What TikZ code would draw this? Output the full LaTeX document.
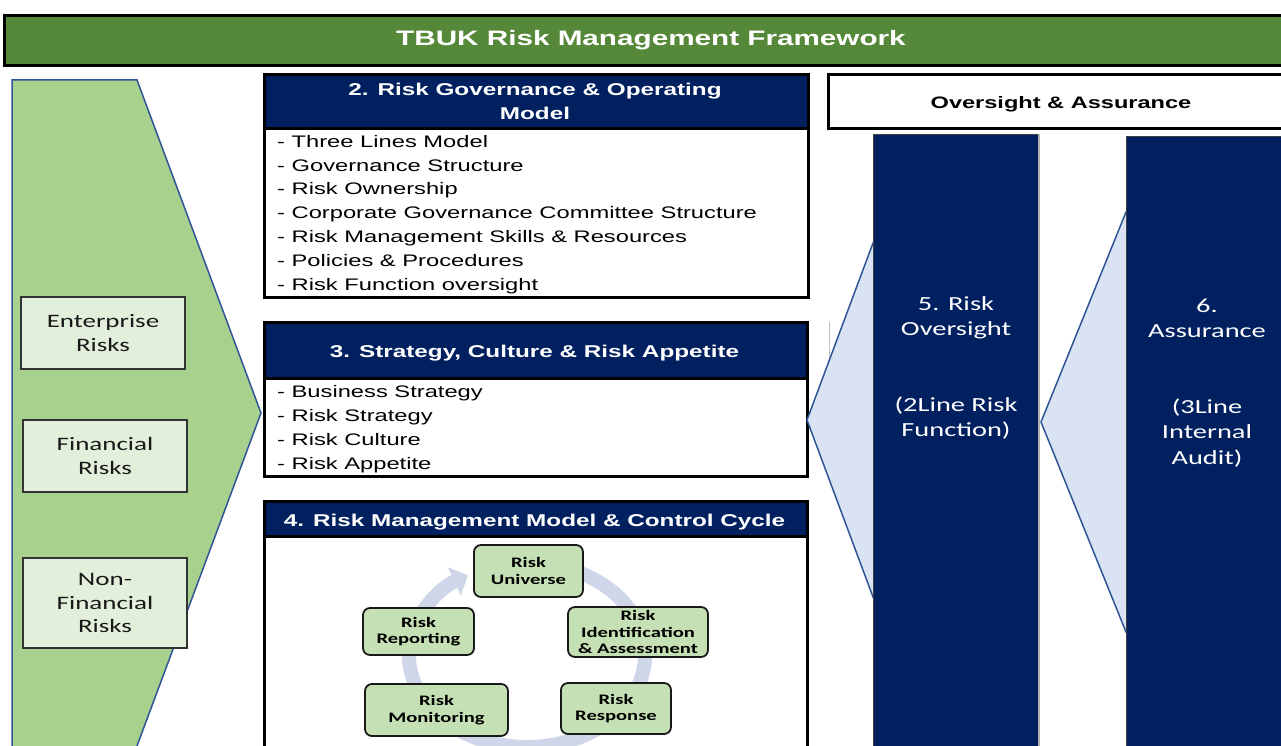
\documentclass[tikz,border=0pt]{standalone}
\usepackage{fontspec}
\setmainfont{Liberation Sans}
\newfontfamily\arialx[FakeStretch=1.42]{Liberation Sans}
\newfontfamily\calx[FakeStretch=1.42]{Carlito}
\usetikzlibrary{arrows.meta}

\definecolor{titleGreen}{RGB}{86,136,57}
\definecolor{arrowGreen}{RGB}{169,209,142}
\definecolor{paleGreen}{RGB}{226,239,218}
\definecolor{cycGreen}{RGB}{197,224,180}
\definecolor{navy}{RGB}{0,32,96}
\definecolor{lightBlue}{RGB}{218,227,243}
\definecolor{chevBlue}{RGB}{47,85,151}
\definecolor{ringBlue}{RGB}{207,214,234}

\begin{document}
\begin{tikzpicture}[x=1pt,y=-1pt,
  framebox/.style={draw=black, line width=3pt, fill=white, inner sep=0pt},
  hdrbar/.style={draw=black, line width=3pt, fill=navy, inner sep=0pt},
  hdrtext/.style={text=white, font=\arialx\bfseries\fontsize{17.1}{23.3}\selectfont, align=center, inner sep=0pt},
  item/.style={font=\arialx\fontsize{16.7}{23.8}\selectfont, anchor=base west, inner sep=0pt},
  riskbox/.style={draw=black!80, line width=1.2pt, fill=paleGreen, text=black!90,
    font=\calx\fontsize{19}{23.3}\selectfont, align=center, inner sep=0pt},
  cyclebox/.style={draw=black!90, line width=1.8pt, rounded corners=7pt, fill=cycGreen,
    font=\calx\bfseries\fontsize{14.5}{16.7}\selectfont, align=center, inner sep=0pt},
  column/.style={fill=navy, draw=black!75, line width=1pt, inner sep=0pt},
  coltext/.style={text=white, font=\calx\fontsize{20}{25.3}\selectfont, align=center, inner sep=0pt},
  chevron/.style={fill=lightBlue, draw=chevBlue, line width=1.5pt, line join=miter}
]
\useasboundingbox (0,0) rectangle (1281,746);
\clip (0,0) rectangle (1281,746);

% title bar
\node[draw=black, line width=3pt, fill=titleGreen, anchor=north west,
      minimum width=1300pt, minimum height=50pt, inner sep=0pt] (titlebar) at (3,14) {};
\node[text=white, font=\arialx\bfseries\fontsize{20.9}{25}\selectfont, anchor=base, inner sep=0pt]
      (title) at (651,45.3) {TBUK Risk Management Framework};

% large green arrow on the left
\path[fill=arrowGreen, draw=chevBlue, line width=1.5pt, line join=miter]
  (12,80) -- (137,80) -- (261,413) -- (135.5,750) -- (12,750) -- cycle;

\node[riskbox, minimum width=164pt, minimum height=72pt] (ent) at (103,333) {Enterprise\\Risks};
\node[riskbox, minimum width=164pt, minimum height=72pt] (fin) at (105,456) {Financial\\Risks};
\node[riskbox, minimum width=164pt, minimum height=90pt] (nonfin) at (105,603) {Non-\\Financial\\Risks};

% 2. governance box
\node[framebox, anchor=north west, minimum width=544pt, minimum height=223pt] (gov) at (263,73) {};
\node[hdrbar, anchor=north west, minimum width=544pt, minimum height=54pt] (govhead) at (263,73) {};
\node[hdrtext] (govtitle) at (535,101.4) {2. Risk Governance \& Operating\\Model};
\foreach \t [count=\i] in {Three Lines Model, Governance Structure, Risk Ownership,
    Corporate Governance Committee Structure, Risk Management Skills \& Resources,
    Policies \& Procedures, Risk Function oversight}
  \node[item] (gov\i) at (277,{147.3+23.8*(\i-1)}) {- \t};

% 3. strategy box
\node[framebox, anchor=north west, minimum width=543pt, minimum height=154pt] (strat) at (263,321) {};
\node[hdrbar, anchor=north west, minimum width=543pt, minimum height=56pt] (strathead) at (263,321) {};
\node[hdrtext, anchor=base] (strattitle) at (534.5,357.3) {3. Strategy, Culture \& Risk Appetite};
\foreach \t [count=\i] in {Business Strategy, Risk Strategy, Risk Culture, Risk Appetite}
  \node[item] (strat\i) at (277,{397.7+23.9*(\i-1)}) {- \t};

% 4. control cycle box
\node[framebox, anchor=north west, minimum width=543pt, minimum height=260pt] (cycle) at (263,500) {};
\node[hdrbar, anchor=north west, minimum width=543pt, minimum height=35pt] (cyclehead) at (263,500) {};
\node[hdrtext, anchor=base] (cycletitle) at (534.5,526) {4. Risk Management Model \& Control Cycle};

% cycle ring with arrowhead
\draw[ringBlue, line width=14pt, -{Triangle[width=30pt,length=15pt]}]
  (527,655) ++(-75:118 and 92) arc[start angle=-75, end angle=240, x radius=118, y radius=92];

\node[cyclebox, minimum width=109pt, minimum height=52pt] (universe) at (528.5,571) {Risk\\Universe};
\node[cyclebox, minimum width=140pt, minimum height=50pt] (ident) at (638,632) {Risk\\Identification\\\& Assessment};
\node[cyclebox, minimum width=111pt, minimum height=47pt] (report) at (418.5,631.5) {Risk\\Reporting};
\node[cyclebox, minimum width=143pt, minimum height=52pt] (monitor) at (436.5,710) {Risk\\Monitoring};
\node[cyclebox, minimum width=110pt, minimum height=51pt] (response) at (616,708.5) {Risk\\Response};

% oversight and assurance
\node[framebox, anchor=north west, minimum width=470pt, minimum height=54pt] (oabox) at (827,73) {};
\node[font=\arialx\bfseries\fontsize{16.6}{20}\selectfont, anchor=base, inner sep=0pt]
  (oatitle) at (1061,109) {Oversight \& Assurance};

\draw[black!25, line width=1pt] (829,322) -- (829,358);

\path[chevron] (960,243) -- (873,243) -- (807,420) -- (873,597) -- (960,597);
\path[chevron] (1200,212) -- (1126,212) -- (1041,422) -- (1126,632) -- (1200,632);

\node[column, anchor=north west, minimum width=165pt, minimum height=620pt] (col5) at (873,134) {};
\node[column, anchor=north west, minimum width=170pt, minimum height=620pt] (col6) at (1126,136) {};
\draw[black!30, line width=1.2pt] (col5.north east) -- (col5.south east);

\node[coltext] (col5text) at (956,368) {5. Risk\\Oversight\\[50.6pt](2Line Risk\\Function)};
\node[coltext] (col6text) at (1207,382.8) {6.\\Assurance\\[50.6pt](3Line\\Internal\\Audit)};

\end{tikzpicture}
\end{document}
